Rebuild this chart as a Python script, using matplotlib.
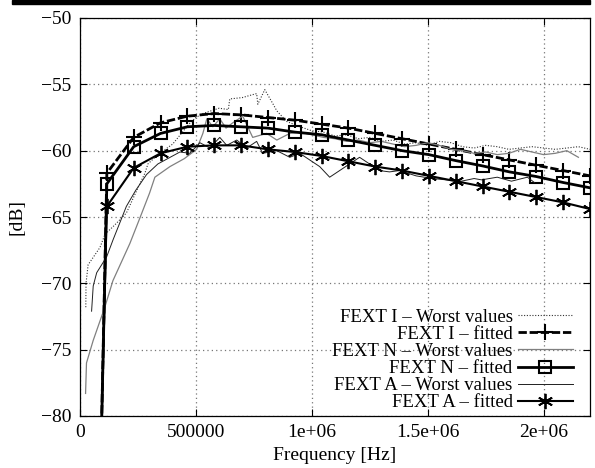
import matplotlib
matplotlib.use("Agg")
import matplotlib.pyplot as plt
from matplotlib.patches import Rectangle

plt.rcParams['font.family'] = ['Liberation Serif', 'DejaVu Serif']

# ---- data ----
fit_freq = [0, 115800, 231600, 347400, 463200, 578900, 694700, 810500, 926300,
            1042100, 1157900, 1273700, 1389500, 1505300, 1621100, 1736800,
            1852600, 1968400, 2084200, 2200000]
fext_i_fit = [-158.5, -61.7, -59.0, -57.9, -57.4, -57.2, -57.3, -57.5, -57.7,
              -58.0, -58.3, -58.7, -59.1, -59.5, -59.9, -60.3, -60.7, -61.1, -61.5, -61.9]
fext_n_fit = [-155.5, -62.5, -59.7, -58.7, -58.2, -58.1, -58.2, -58.3, -58.6,
              -58.8, -59.2, -59.6, -60.0, -60.3, -60.75, -61.15, -61.6, -61.95, -62.4, -62.8]
fext_a_fit = [-148.0, -64.2, -61.3, -60.2, -59.7, -59.6, -59.6, -59.9, -60.1,
              -60.4, -60.8, -61.2, -61.5, -61.9, -62.3, -62.7, -63.1, -63.5, -63.9, -64.4]

i_worst_freq = [25e3, 26e3, 35e3, 86e3, 108e3, 150e3, 200e3, 250e3, 280e3, 293e3, 336e3,
                400e3, 470e3, 500e3, 530e3, 600e3, 640e3, 646e3, 700e3, 740e3, 762e3,
                767e3, 797e3, 830e3, 849e3, 892e3, 950e3, 1000e3, 1050e3, 1100e3,
                1150e3, 1200e3, 1250e3, 1300e3, 1350e3, 1400e3, 1450e3, 1500e3,
                1550e3, 1600e3, 1650e3, 1700e3, 1750e3, 1800e3, 1850e3, 1900e3,
                1950e3, 2000e3, 2050e3, 2100e3, 2150e3, 2200e3]
i_worst_db = [-71.8, -70.0, -68.6, -67.3, -66.3, -65.6, -64.7, -62.8, -61.7, -61.0, -60.3,
              -59.5, -58.0, -57.5, -57.2, -56.8, -56.9, -56.1, -56.0, -55.8, -55.7,
              -56.5, -55.4, -56.4, -57.0, -57.8, -58.2, -58.5, -58.6, -58.9,
              -58.8, -59.1, -59.0, -59.3, -59.2, -59.5, -59.4, -59.6,
              -59.3, -59.4, -59.7, -59.8, -59.6, -59.7, -59.9, -59.8,
              -59.7, -59.8, -59.9, -59.8, -59.7, -59.9]

n_worst_freq = [24e3, 28e3, 57e3, 107e3, 142e3, 215e3, 260e3, 300e3, 323e3, 388e3,
                450e3, 503e3, 530e3, 547e3, 573e3, 603e3, 630e3, 659e3, 702e3, 745e3,
                805e3, 849e3, 905e3, 950e3, 1000e3, 1050e3, 1100e3, 1150e3, 1200e3,
                1250e3, 1300e3, 1350e3, 1400e3, 1450e3, 1500e3, 1550e3, 1600e3,
                1650e3, 1700e3, 1750e3, 1800e3, 1850e3, 1900e3, 1950e3, 2000e3,
                2050e3, 2100e3, 2150e3]
n_worst_db = [-78.3, -76.0, -74.3, -71.8, -69.8, -67.0, -65.0, -63.2, -62.0, -61.2,
              -60.6, -59.9, -58.7, -57.6, -58.2, -57.6, -58.3, -57.9, -57.4, -59.0,
              -58.7, -59.2, -58.7, -58.6, -58.8, -59.0, -59.1, -59.3, -59.2,
              -59.4, -59.3, -59.5, -59.7, -59.6, -59.4, -59.6, -59.9,
              -60.0, -60.2, -60.1, -60.3, -60.2, -59.9, -60.1, -60.3,
              -60.2, -60.0, -60.5]

a_worst_freq = [50e3, 57e3, 72e3, 115e3, 143e3, 200e3, 240e3, 287e3, 336e3, 431e3,
                474e3, 517e3, 560e3, 603e3, 633e3, 676e3, 719e3, 762e3, 788e3, 849e3,
                905e3, 948e3, 991e3, 1034e3, 1077e3, 1120e3, 1163e3, 1206e3, 1249e3,
                1292e3, 1335e3, 1378e3, 1450e3, 1520e3, 1580e3, 1645e3, 1700e3,
                1732e3, 1800e3, 1861e3, 1930e3, 1960e3]
a_worst_db = [-72.1, -70.2, -69.2, -68.0, -66.7, -64.2, -63.0, -61.8, -61.0, -60.1,
              -60.2, -59.4, -59.8, -59.0, -59.6, -59.2, -59.8, -59.3, -60.2, -60.0,
              -60.5, -60.2, -60.7, -61.2, -62.0, -61.5, -61.0, -60.5, -61.0,
              -61.5, -61.6, -61.5, -61.9, -62.1, -62.2, -62.3, -62.1,
              -62.2, -62.0, -62.3, -62.0, -62.4]

xticks = [0, 500000, 1000000, 1500000, 2000000]
xtick_labels = ["0", "500000", "1e+06", "1.5e+06", "2e+06"]
yticks = [-80, -75, -70, -65, -60, -55, -50]

# ---- figure ----
W, H = 595, 468
fig = plt.figure(figsize=(W / 100, H / 100), dpi=100)
ax = fig.add_axes([80 / W, 1 - 416 / H, 510 / W, 398 / H])

# top black bar
fig.patches.append(Rectangle((12 / W, 1 - 4 / H), 578 / W, 4 / H,
                             transform=fig.transFigure, color='black', zorder=10))

ax.plot(i_worst_freq, i_worst_db, color='#333333', lw=0.8, ls=(0, (1, 1.5)),
        label='FEXT I – Worst values')
ax.plot(fit_freq, fext_i_fit, color='black', lw=2.0, ls=(0, (3, 1)),
        marker='+', ms=11, mew=1.5, label='FEXT I – fitted')
ax.plot(n_worst_freq, n_worst_db, color='#808080', lw=0.9,
        label='FEXT N – Worst values')
ax.plot(fit_freq, fext_n_fit, color='black', lw=2.0,
        marker='s', ms=9, mew=1.5, mfc='none', label='FEXT N – fitted')
ax.plot(a_worst_freq, a_worst_db, color='#202020', lw=0.7,
        label='FEXT A – Worst values')
ax.plot(fit_freq, fext_a_fit, color='black', lw=1.5,
        marker=(6, 2, 0), ms=11, mew=1.3, label='FEXT A – fitted')

ax.set_xlim(0, 2200000)
ax.set_ylim(-80, -50)
ax.set_xticks(xticks)
ax.set_xticklabels(xtick_labels)
ax.set_yticks(yticks)
ax.tick_params(direction='in', top=True, right=True, length=5, width=0.8,
               labelsize=14, pad=6)
ax.grid(True, color='#777777', ls=(0, (1, 2.5)), lw=0.9)
for s in ax.spines.values():
    s.set_linewidth(0.9)

ax.set_xlabel('Frequency [Hz]', fontsize=14, labelpad=4)
ax.set_ylabel('[dB]', fontsize=14, labelpad=11)

leg = ax.legend(loc='lower right', bbox_to_anchor=(0.975, 0.0), fontsize=13.5,
                frameon=False, markerfirst=False, handlelength=2.9,
                handletextpad=0.3, labelspacing=0.0, borderaxespad=0.1,
                borderpad=0.15)
for t in leg.get_texts():
    t.set_ha('right')

fig.savefig('out.png', dpi=100)
